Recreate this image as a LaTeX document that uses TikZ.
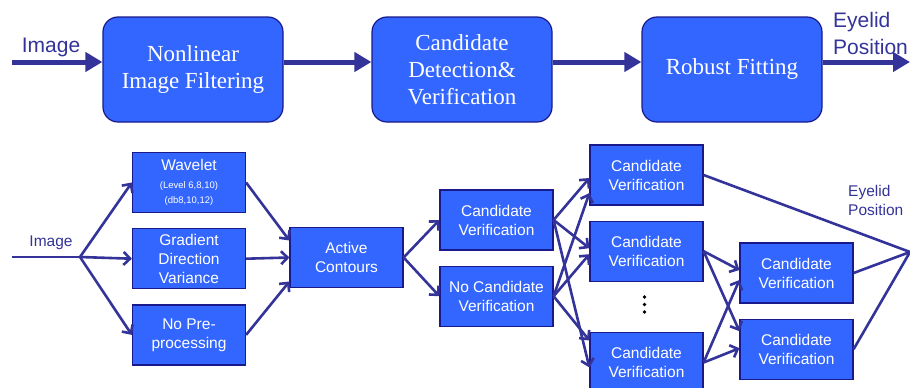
\documentclass[tikz,border=0pt]{standalone}
\usepackage{fontspec}
\setmainfont{Liberation Serif}
\setsansfont{Liberation Sans}
\usepackage{xcolor}
\usepackage{tikz}
\usetikzlibrary{arrows.meta,positioning,calc}

\definecolor{boxblue}{RGB}{51,102,255}
\definecolor{boxedge}{RGB}{25,25,140}
\definecolor{linkblue}{RGB}{51,51,153}

\begin{document}
\begin{tikzpicture}[
    x=1pt, y=-1pt,
    node distance=15pt,
    stage/.style={rectangle, draw=boxedge, line width=1.2pt, fill=boxblue, rounded corners=15pt,
        minimum width=180pt, minimum height=105pt, inner sep=0pt, text=white, align=center,
        font=\rmfamily\fontsize{23}{27}\selectfont},
    block/.style={rectangle, draw=boxedge, line width=1.2pt, fill=boxblue,
        minimum width=113pt, minimum height=60pt, inner sep=0pt, text=white, align=center,
        font=\sffamily\fontsize{15.5}{19}\selectfont},
    label/.style={text=linkblue, align=left, inner sep=0pt},
    bigarrow/.style={draw=linkblue, line width=5pt, -{Triangle[length=17pt,width=19pt]}},
    arrow/.style={draw=linkblue, line width=2.6pt, -{Straight Barb[length=6.5pt,width=13pt]}},
    link/.style={draw=linkblue, line width=2.6pt}
]
\useasboundingbox (0,0) rectangle (910,388);

% top row
\node[stage] (filter) at (193,69.5) {Nonlinear\\Image Filtering};
\node[stage] (detect) at (462,69.5) {Candidate\\Detection\&\\Verification};
\node[stage] (fit) at (732,69.5) {Robust Fitting};
\coordinate (topin) at (12,62);
\coordinate (topout) at (910,62);
\node[label, font=\sffamily\fontsize{21}{27}\selectfont] (topimage) at (51,47) {Image};
\node[label, font=\sffamily\fontsize{21}{27}\selectfont, anchor=west] (topeyelid) at (833,33) {Eyelid\\Position};

\draw[bigarrow] (topin) -- (topin -| filter.west);
\draw[bigarrow] (topin -| filter.east) -- (topin -| detect.west);
\draw[bigarrow] (topin -| detect.east) -- (topin -| fit.west);
\draw[bigarrow] (topin -| fit.east) -- (topout);

% bottom row
\node[block] (wavelet) at (189,182.5) {Wavelet\\[-1pt]{\fontsize{9.5}{13}\selectfont (Level 6,8,10)}\\[-4pt]{\fontsize{9.5}{13}\selectfont (db8,10,12)}};
\node[block, below=of wavelet] (gradient) {Gradient\\Direction\\Variance};
\node[block, below=of gradient] (nopre) {No Pre-\\processing};
\node[block] (contours) at (346.5,257.5) {Active\\Contours};
\node[block] (cand) at (496.5,220) {Candidate\\Verification};
\node[block, below=of cand] (nocand) {No Candidate\\Verification};
\node[block] (verA) at (646.5,175) {Candidate\\Verification};
\node[block, below=of verA] (verB) {Candidate\\Verification};
\node[block] (verC) at (646.5,362.5) {Candidate\\Verification};
\node[block] (verD) at (796.5,273) {Candidate\\Verification};
\node[block, below=of verD] (verE) {Candidate\\Verification};

% vertical dots between the blocks
\foreach \dy in {297,304.5,312}
    \fill (644.5,\dy) circle (1.8pt);

\coordinate (input) at (12,257);
\coordinate (split) at (80,257);
\coordinate (output) at (910,252);
\node[label, font=\sffamily\fontsize{15.5}{19}\selectfont] (image) at (51,243) {Image};
\node[label, font=\sffamily\fontsize{15.5}{19}\selectfont, anchor=west] (eyelid) at (848,200) {Eyelid\\Position};

\draw[link] (input) -- (split);
\draw[arrow] (split) -- (wavelet.west);
\draw[arrow] (split) -- (gradient.west);
\draw[arrow] (split) -- (nopre.west);

\draw[arrow] (wavelet.east) -- ([yshift=17pt]contours.west);
\draw[arrow] (gradient.east) -- (contours.west);
\draw[arrow] (nopre.east) -- ([yshift=-24pt]contours.west);

\draw[arrow] (contours.east) -- (cand.west);
\draw[arrow] (contours.east) -- (nocand.west);

\draw[arrow] (cand.east) -- ([yshift=-3pt]verA.west);
\draw[arrow] (cand.east) -- ([yshift=3pt]verB.west);
\draw[arrow] (cand.east) -- ([yshift=-5pt]verC.west);
\draw[arrow] (nocand.east) -- ([yshift=-18pt]verA.west);
\draw[arrow] (nocand.east) -- ([yshift=-3pt]verB.west);
\draw[arrow] (nocand.east) -- ([yshift=22pt]verC.west);

\draw[arrow] (verB.east) -- ([yshift=3pt]verD.west);
\draw[arrow] (verB.east) -- ([yshift=18pt]verE.west);
\draw[arrow] (verC.east) -- ([yshift=-7pt]verD.west);
\draw[arrow] (verC.east) -- ([yshift=1pt]verE.west);

\draw[link] (verA.east) -- (output);
\draw[link] (verD.east) -- (output);
\draw[link] (verE.east) -- (output);

\end{tikzpicture}
\end{document}
